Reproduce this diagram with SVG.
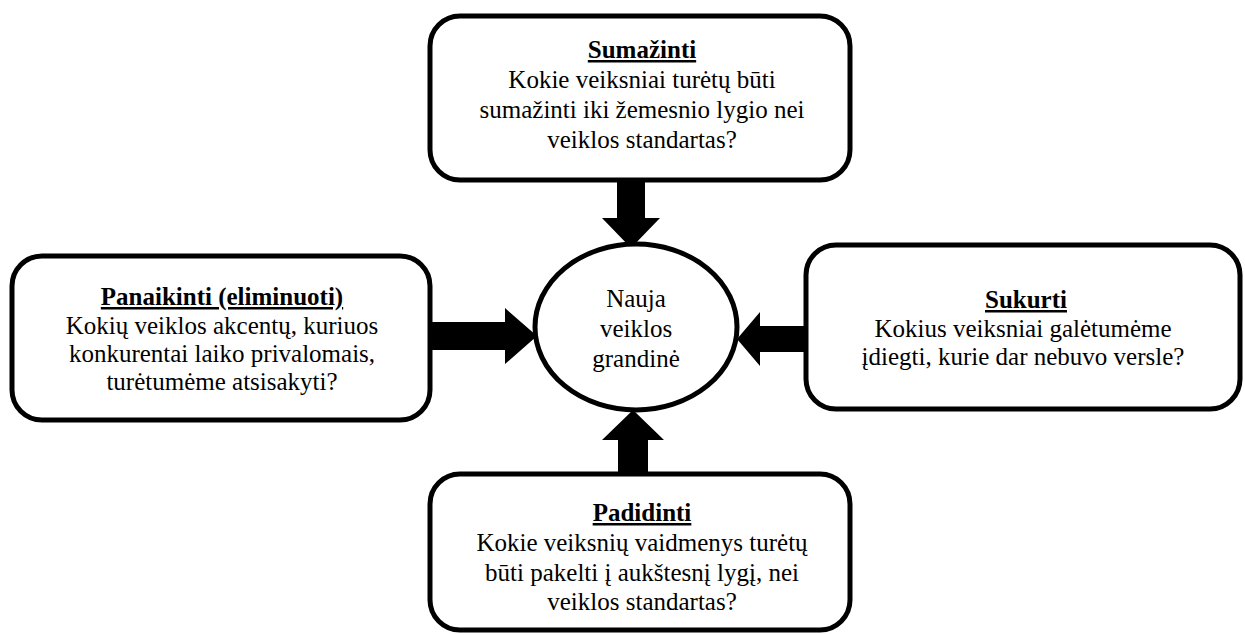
<svg xmlns="http://www.w3.org/2000/svg" width="1245" height="635" viewBox="0 0 1245 635">
  <style>
    .box { fill: #ffffff; stroke: #000000; stroke-width: 5; }
    .hub { fill: #ffffff; stroke: #000000; stroke-width: 5; }
    .arrow { fill: #000000; stroke: none; }
    .t { font-family: 'Liberation Serif', serif; font-size: 25px; fill: #000000; text-anchor: middle; }
    .title { font-weight: bold; text-decoration: underline; }
  </style>
  <rect width="1245" height="635" fill="#ffffff"/>

  <!-- block arrows pointing into the hub -->
  <g id="connectors">
    <polygon class="arrow" points="617,182 645,182 645,218 660,218 631,248 602,218 617,218"/>
    <polygon class="arrow" points="432,322 505,322 505,308 537,336 505,364 505,350 432,350"/>
    <polygon class="arrow" points="806,326 760,326 760,312 737,339 760,366 760,352 806,352"/>
    <polygon class="arrow" points="618,472 648,472 648,440 664,440 633,410 602,440 618,440"/>
  </g>

  <g id="hub">
    <ellipse class="hub" cx="636" cy="327" rx="101" ry="83"/>
    <text class="t" x="636" y="307">Nauja</text>
    <text class="t" x="636" y="337">veiklos</text>
    <text class="t" x="636" y="367">grandinė</text>
  </g>

  <g id="reduce">
    <rect class="box" x="430" y="16" width="420" height="164" rx="30"/>
    <text class="t title" x="642" y="58">Sumažinti</text>
    <text class="t" x="642" y="88">Kokie veiksniai turėtų būti</text>
    <text class="t" x="642" y="118">sumažinti iki žemesnio lygio nei</text>
    <text class="t" x="642" y="148">veiklos standartas?</text>
  </g>

  <g id="eliminate">
    <rect class="box" x="12" y="256" width="418" height="164" rx="30"/>
    <text class="t title" x="222" y="305">Panaikinti (eliminuoti)</text>
    <text class="t" x="222" y="334">Kokių veiklos akcentų, kuriuos</text>
    <text class="t" x="222" y="362">konkurentai laiko privalomais,</text>
    <text class="t" x="222" y="390">turėtumėme atsisakyti?</text>
  </g>

  <g id="create">
    <rect class="box" x="806" y="245" width="434" height="164" rx="30"/>
    <text class="t title" x="1026" y="308">Sukurti</text>
    <text class="t" x="1023" y="337">Kokius veiksniai galėtumėme</text>
    <text class="t" x="1023" y="365">įdiegti, kurie dar nebuvo versle?</text>
  </g>

  <g id="raise">
    <rect class="box" x="430" y="474" width="420" height="156" rx="30"/>
    <text class="t title" x="642" y="521">Padidinti</text>
    <text class="t" x="642" y="551">Kokie veiksnių vaidmenys turėtų</text>
    <text class="t" x="642" y="581">būti pakelti į aukštesnį lygį, nei</text>
    <text class="t" x="642" y="610">veiklos standartas?</text>
  </g>
</svg>
